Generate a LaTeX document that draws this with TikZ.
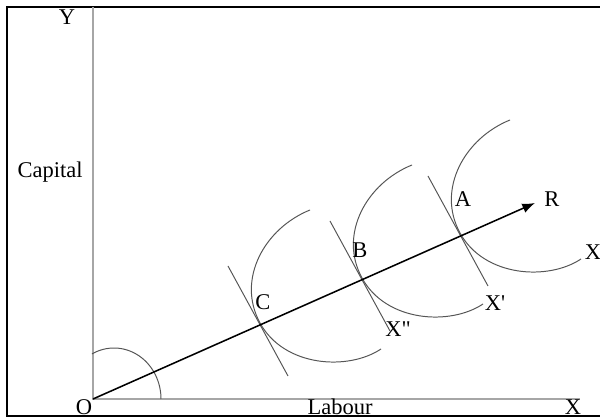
\documentclass[tikz,border=0pt]{standalone}
\usepackage{fontspec}
\setmainfont{Liberation Serif}
\newfontfamily\quotefont{Liberation Serif}
\usetikzlibrary{arrows.meta,calc}
\definecolor{axisgray}{HTML}{A6A6A6}
\definecolor{curvegray}{HTML}{555555}

\tikzset{
  frame/.style={line width=1.5pt, black},
  axis/.style={line width=1.3pt, axisgray},
  isoquant/.style={line width=0.7pt, curvegray},
  tangent/.style={line width=0.7pt, curvegray},
  ray/.style={line width=1.1pt, black, -{Latex[length=9pt,width=7pt]}},
  lbl/.style={inner sep=0pt, anchor=base, font=\fontsize{16}{18}\selectfont}
}

\begin{document}
\begin{tikzpicture}[x=0.025cm, y=-0.025cm]
  \useasboundingbox (0,0) rectangle (600,419);
  % frame (open on the right)
  \draw[frame] (606,7) -- (7,7) -- (7,416) -- (606,416);

  % axes
  \coordinate (O) at (93,399);
  \coordinate (Ytop) at (93,7);
  \coordinate (Xend) at (580,399);
  \draw[axis] (Ytop) -- (O) -- (Xend);

  % angle arc at the origin
  \draw[isoquant] plot[domain=0:118, samples=40] ({114+47*cos(\x)}, {399-51*sin(\x)});

  % points of tangency on the expansion path
  \coordinate (C) at (260,323);
  \coordinate (B) at (362,278);
  \coordinate (A) at (460,233);
  \coordinate (Rtip) at (535,203);

  % isoquants and isocost lines
  \foreach \p in {C,B,A} {
    \begin{scope}[shift={(\p)}]
      \draw[isoquant] (50,-113) .. controls (5,-95) and (-24,-44) .. (0,0)
                                .. controls (24,44) and (88,48) .. (121,26);
      \draw[tangent] (-32,-57) -- (28,53);
    \end{scope}
  }

  % expansion path
  \draw[ray] (O) -- (Rtip);

  % labels
  \node[lbl] (lY) at (67,25) {Y};
  \node[lbl] (lCap) at (50,178) {Capital};
  \node[lbl] (lO) at (84,415) {O};
  \node[lbl] (lLab) at (340,415) {Labour};
  \node[lbl] (lX) at (573,415) {X};
  \node[lbl] (lC) at (263,310) {C};
  \node[lbl] (lB) at (360,258) {B};
  \node[lbl] (lA) at (463,207) {A};
  \node[lbl] (lR) at (552,207) {R};
  \node[lbl] (lX1) at (593,260) {X};
  \node[lbl] (lX2) at (495,311) {\quotefont X'};
  \node[lbl] (lX3) at (398,337) {\quotefont X"};
\end{tikzpicture}
\end{document}
